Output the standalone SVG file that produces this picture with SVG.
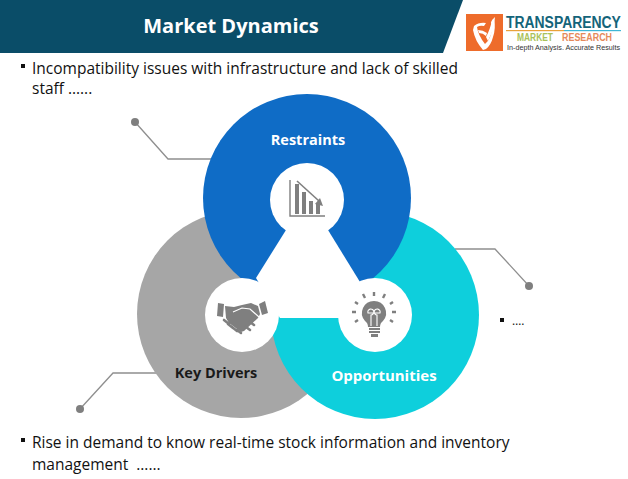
<svg xmlns="http://www.w3.org/2000/svg" width="628" height="479" viewBox="0 0 628 479">
<style>
text{font-family:"Open Sans","Noto Sans","Liberation Sans",sans-serif}
.logo{font-family:"Liberation Sans",sans-serif}
.body{font-size:15.5px;fill:#111}
.lbl{font-weight:700;text-anchor:middle}
.lead{fill:none;stroke:#8f8f8f;stroke-width:1.3}
.dot{fill:#7f7f7f}
.ico{fill:#7f7f7f}
.icl{fill:none;stroke:#7f7f7f}
</style>
<rect width="628" height="479" fill="#fff"/>
<g id="header">
<polygon points="0,0 463,0 443,53 0,53" fill="#0a4d68"/>
<text x="231" y="33" text-anchor="middle" font-size="20" font-weight="700" fill="#fff">Market Dynamics</text>
</g>
<g id="logo">
<rect x="466" y="14" width="37" height="37" fill="#ee6c2b"/>
<path d="M474 26q5-4 12-3l-2 3q-4-1-7 1 1 8 8 17 3-2 5-7 3-8 1-15l3-3q2 9-1 18-2 8-7 12l-3 1q-8-9-10-20z" fill="#fff"/>
<path d="M478 30q5 0 9 3l-1 3q-3-3-7-3zM486 37q4-7 6-17l3-3q-1 13-7 24z" fill="#fff"/>
<text class="logo" transform="translate(506,28) scale(.819,1)" font-size="17" font-weight="700" fill="#14647a">TRANSPARENCY</text>
<rect x="506" y="30" width="58" height="1.2" fill="#e9a23b"/>
<rect x="564" y="30" width="57" height="1.2" fill="#3fb6d6"/>
<text class="logo" x="517" y="41" font-size="10" font-weight="700" fill="#a9c25a" textLength="36" lengthAdjust="spacingAndGlyphs">MARKET</text>
<text class="logo" x="562" y="41" font-size="10" font-weight="700" fill="#e58a5b" textLength="50" lengthAdjust="spacingAndGlyphs">RESEARCH</text>
<text class="logo" x="507" y="50" font-size="7" fill="#333" textLength="113" lengthAdjust="spacingAndGlyphs">In-depth Analysis. Accurate Results</text>
</g>
<g id="connectors">
<polyline class="lead" points="135,122 168,159 212,159"/>
<circle class="dot" cx="135" cy="122" r="4"/>
<polyline class="lead" points="529,286 495,249 455,249"/>
<circle class="dot" cx="529" cy="286" r="4"/>
<polyline class="lead" points="80,409 113,373 175,373"/>
<circle class="dot" cx="80" cy="409" r="4"/>
</g>
<g id="key-drivers">
<circle cx="241" cy="314" r="104" fill="#a6a6a6"/>
</g>
<g id="opportunities">
<circle cx="375" cy="315" r="104" fill="#0ecfdc"/>
</g>
<g id="restraints">
<circle cx="307" cy="198" r="104" fill="#0f6cc6"/>
</g>
<g id="center">
<polygon points="286,230 328,230 360,282 375,318 280,318 256,278" fill="#fff"/>
</g>
<g id="restraints-icon">
<circle cx="307" cy="200" r="37" fill="#fff"/>
<path d="M290 180v36h35" class="icl" stroke-width="1.4"/>
<path class="ico" d="M295 184h4v30h-4zM302 192h4v22h-4zM309 201h4v13h-4zM316 203h4v11h-4z"/>
<path d="M297 181l22 20" class="icl" stroke-width="1.6"/>
<path class="ico" d="M323 206l-8-2 5-6z"/>
<text class="lbl" font-size="14.5" x="308" y="145" fill="#fff">Restraints</text>
</g>
<g id="drivers-icon">
<circle cx="242" cy="315" r="37" fill="#fff"/>
<path class="ico" d="M218 303l6 1-1 13-6-1zM259 304l6-3 3 12-6 2z"/>
<path class="ico" d="M225 306l9 1 8-2 9-2 7 3 2 8-2 4-14 13-3 1-12-9-3-5z"/>
<path d="M233 312l9-4 8 1 9 8M227 322l-4-1" fill="none" stroke="#fff" stroke-width="1.2"/>
<path d="M224 320l5 4M228 324l5 4M232 327l5 4M237 330l4 3M250 322l4 3M246 327l4 3" fill="none" stroke="#7f7f7f" stroke-width="2.6" stroke-linecap="round"/>
<text class="lbl" font-size="14.5" x="216" y="378" fill="#1a1a1a">Key Drivers</text>
</g>
<g id="opportunities-icon">
<circle cx="375" cy="315" r="37" fill="#fff"/>
<path class="ico" d="M374 301a12 12 0 0 1 9 20q-3 2-3 6h-12q0-4-3-6a12 12 0 0 1 9-20z"/>
<path d="M371 326v-11a3 3 0 1 0-3-2h12a3 3 0 1 0-3 2v11" fill="none" stroke="#fff" stroke-width="1.1"/>
<path class="ico" d="M369 328h11v2h-11zM369 331h11v2h-11zM371 334h7v3h-7z"/>
<path d="M374 296v-4M365 298l-2-4M383 298l2-4M358 304l-3-2M390 304l3-2M356 312h-4M392 312h4M358 320l-3 2M390 320l3 2" class="icl" stroke-width="2.4"/>
<text class="lbl" font-size="15" x="384" y="381" fill="#fff">Opportunities</text>
</g>
<g id="text-top">
<rect x="21" y="64" width="4" height="4" fill="#111"/>
<text class="body" x="32" y="74">Incompatibility issues with infrastructure and lack of skilled</text>
<text class="body" x="32" y="94">staff …...</text>
</g>
<g id="text-right">
<rect x="500" y="318" width="4" height="4" fill="#111"/>
<text x="512" y="325" font-size="12" fill="#111">….</text>
</g>
<g id="text-bottom">
<rect x="21" y="438" width="4" height="4" fill="#111"/>
<text class="body" x="32" y="448">Rise in demand to know real-time stock information and inventory</text>
<text class="body" x="32" y="470">management&#160; …...</text>
</g>
</svg>
